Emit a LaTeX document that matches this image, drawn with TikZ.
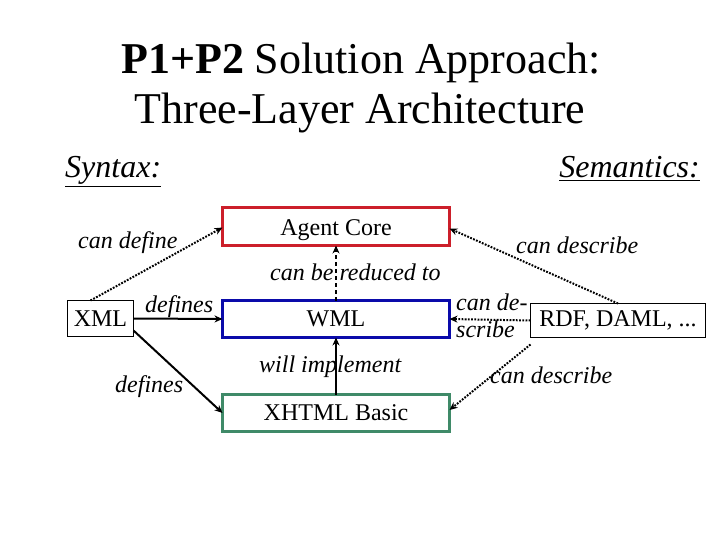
\documentclass[tikz,border=0pt]{standalone}
\usepackage{fontspec}
\setmainfont{Liberation Serif}
\usetikzlibrary{arrows.meta}
\definecolor{boxred}{RGB}{204,31,42}
\definecolor{boxblue}{RGB}{10,10,170}
\definecolor{boxgreen}{RGB}{63,138,104}
\begin{document}
\begin{tikzpicture}[x=1pt,y=-1pt,
  layerbox/.style={draw, line width=3pt, inner sep=0pt, outer sep=0pt, font=\fontsize{24}{28}\selectfont},
  plainbox/.style={draw=black, line width=1pt, inner sep=0pt, outer sep=0pt, font=\fontsize{24}{28}\selectfont},
  lbl/.style={inner sep=0pt, anchor=base west, font=\fontsize{24}{28}\selectfont\itshape},
  conn/.style={line width=2pt, -{Stealth[length=8pt,width=7pt]}},
  dotconn/.style={conn, dash pattern=on 1.8pt off 1.4pt},
  dashconn/.style={conn, dash pattern=on 4pt off 3pt}]
\useasboundingbox (0,0) rectangle (720,540);
\fill[white] (0,0) rectangle (720,540);
% title
\node[anchor=base, inner sep=0pt, font=\fontsize{44}{50}\selectfont] (t1) at (361,74) {\textbf{P1+P2} Solution Approach:};
\node[anchor=base, inner sep=0pt, font=\fontsize{44}{50}\selectfont] (t2) at (360,124) {Three-Layer Architecture};
\node[anchor=base west, inner sep=0pt, font=\fontsize{32}{36}\selectfont\itshape] (syn) at (65,178) {\underline{Syntax:}};
\node[anchor=base east, inner sep=0pt, font=\fontsize{32}{36}\selectfont\itshape] (sem) at (700,178) {\underline{Semantics:}};
% boxes
\node[layerbox, draw=boxred, minimum width=227, minimum height=38, text depth=0pt] (ac) at (336,226.5) {\raisebox{-3pt}{Agent Core}};
\node[layerbox, draw=boxblue, minimum width=227, minimum height=37] (wml) at (336,319) {WML};
\node[layerbox, draw=boxgreen, minimum width=227, minimum height=37] (xh) at (336,413) {XHTML Basic};
\node[plainbox, minimum width=66, minimum height=36] (xml) at (100.5,318.5) {XML};
\node[plainbox, minimum width=175, minimum height=34] (rdf) at (618,320.5) {RDF, DAML, ...};
% connectors
\draw[dotconn] ([xshift=-10pt]xml.north) -- ([yshift=-1pt]ac.west);
\draw[conn] (xml.east) -- (wml.west);
\draw[conn] ([yshift=-12pt]xml.east) -- (xh.west);
\draw[dashconn] (wml.north) -- (ac.south);
\draw[conn] (xh.north) -- (wml.south);
\draw[dotconn] (rdf.north) -- ([yshift=-2pt]ac.east);
\draw[dotconn] (rdf.west) -- (wml.east);
\draw[dotconn] ([yshift=-7pt]rdf.south west) -- ([yshift=3pt]xh.east);
% labels
\node[lbl] (l1) at (78,248) {can define};
\node[lbl] (l2) at (270,280) {can be reduced to};
\node[lbl] (l3) at (145,312) {defines};
\node[lbl] (l4) at (115,392) {defines};
\node[lbl] (l5) at (259,372) {will implement};
\node[lbl] (l6) at (516,254) {can describe};
\node[lbl] (l7) at (456,310) {can de-};
\node[lbl] (l8) at (456,337) {scribe};
\node[lbl] (l9) at (490,383) {can describe};
\end{tikzpicture}
\end{document}
